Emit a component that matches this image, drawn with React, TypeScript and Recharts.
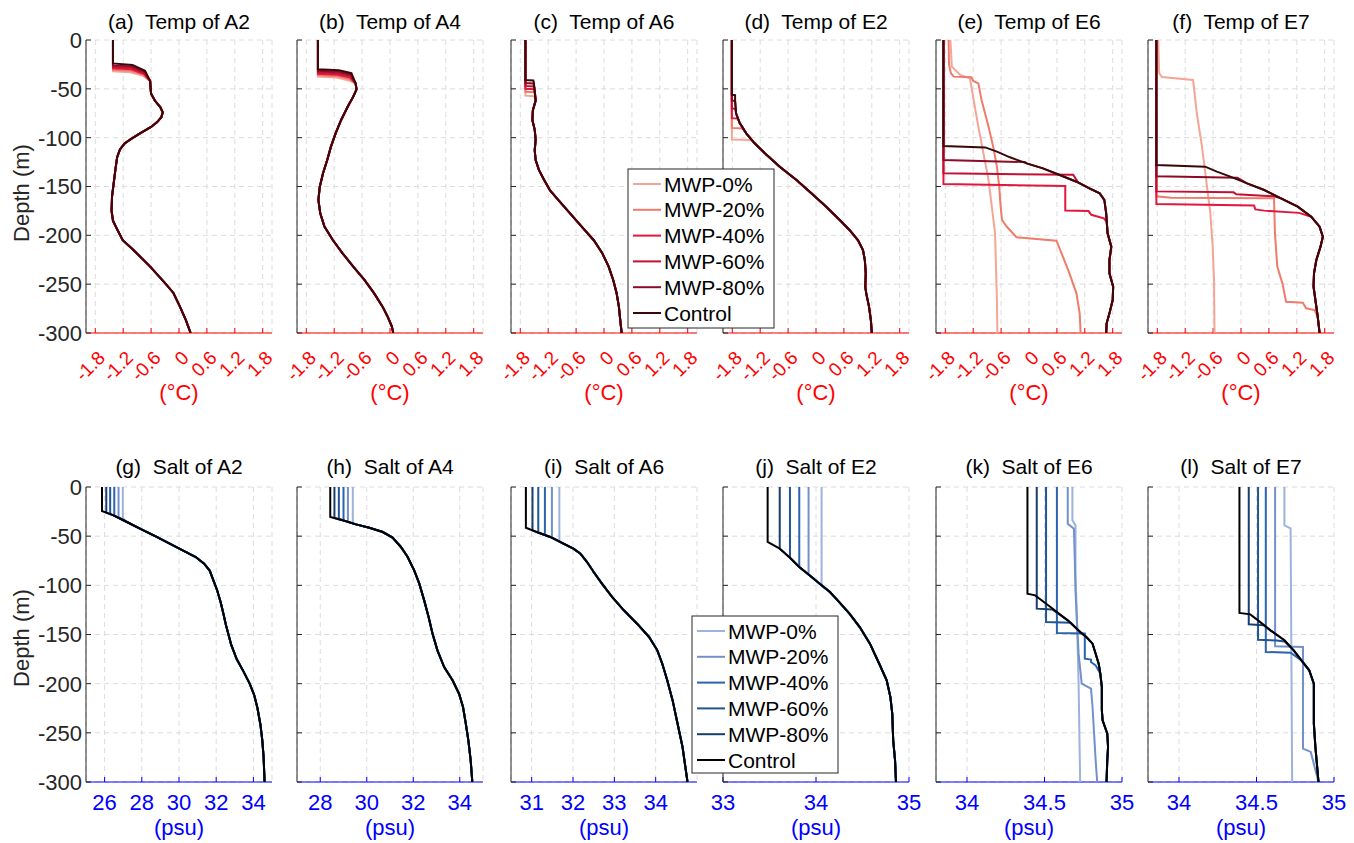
import React from 'react';
import { ScatterChart, Scatter, XAxis, YAxis, CartesianGrid } from 'recharts';

type P = number[][]; // [value, depth]

const SERIES = ['MWP-0%', 'MWP-20%', 'MWP-40%', 'MWP-60%', 'MWP-80%', 'Control'];
const TEMP_COLORS = ['#f4a596', '#ee7c6b', '#e2173d', '#c30f33', '#8c0b26', '#3a0808'];
const SALT_COLORS = ['#9db2dc', '#7490cb', '#2b63ae', '#1f5596', '#183e6e', '#000000'];
const STATIONS = ['A2', 'A4', 'A6', 'E2', 'E6', 'E7'];
const LETTERS_T = ['a', 'b', 'c', 'd', 'e', 'f'];
const LETTERS_S = ['g', 'h', 'i', 'j', 'k', 'l'];
const DEPTH_TICKS = [-300, -250, -200, -150, -100, -50, 0];
const TEMP_TICKS = [-1.8, -1.2, -0.6, 0, 0.6, 1.2, 1.8];
const SALT_TICKS = [[26, 28, 30, 32, 34], [28, 30, 32, 34], [31, 32, 33, 34], [33, 34, 35], [34, 34.5, 35], [34, 34.5, 35]];
const SALT_DOMAINS = [[25, 35], [27, 35], [30.5, 35], [33, 35], [33.8, 35], [33.8, 35]];

// ---------- Temperature ----------
// (a) A2
const tA2Tail: P = [[-0.62, -42], [-0.61, -50], [-0.6, -55], [-0.52, -62], [-0.4, -69], [-0.35, -74], [-0.38, -79], [-0.47, -84], [-0.6, -89], [-0.82, -95], [-1.02, -101], [-1.17, -106], [-1.27, -112], [-1.33, -120], [-1.36, -130], [-1.4, -145], [-1.44, -160], [-1.45, -175], [-1.42, -185], [-1.35, -192], [-1.21, -205], [-0.98, -215], [-0.62, -232], [-0.3, -249], [-0.12, -259], [0.02, -273], [0.15, -287], [0.25, -300]];
const tA2Heads: P[] = [
  [[-1.42, 0], [-1.42, -32], [-1.05, -33], [-0.78, -36.5]],
  [[-1.42, 0], [-1.42, -30.5], [-1.04, -31.5], [-0.77, -35.5]],
  [[-1.42, 0], [-1.42, -29], [-1.03, -30], [-0.76, -34.5]],
  [[-1.42, 0], [-1.42, -27.5], [-1.02, -28.5], [-0.75, -33.5]],
  [[-1.42, 0], [-1.42, -26], [-1.01, -27], [-0.74, -32.5]],
  [[-1.42, 0], [-1.42, -24], [-1.0, -25.5], [-0.73, -31.5]],
];
// (b) A4
const tA4Tail: P = [[-0.74, -44.4], [-0.72, -50.5], [-0.79, -58], [-0.91, -68.3], [-1.05, -81.9], [-1.17, -95.6], [-1.27, -109.2], [-1.35, -122.9], [-1.44, -136.5], [-1.51, -150.2], [-1.54, -163.8], [-1.5, -177.5], [-1.41, -191.1], [-1.23, -204.8], [-1.02, -218.4], [-0.79, -232.1], [-0.55, -245.7], [-0.34, -259.4], [-0.16, -273], [-0.05, -283.3], [0.04, -293.5], [0.07, -300]];
const tA4Heads: P[] = [
  [[-1.55, 0], [-1.55, -37.5], [-1.15, -38.5], [-0.88, -41.5]],
  [[-1.55, 0], [-1.55, -36], [-1.14, -37], [-0.87, -40]],
  [[-1.55, 0], [-1.55, -34.5], [-1.13, -35.5], [-0.86, -38.5]],
  [[-1.55, 0], [-1.55, -33], [-1.12, -34], [-0.85, -37]],
  [[-1.55, 0], [-1.55, -31.5], [-1.11, -32.5], [-0.84, -35.5]],
  [[-1.55, 0], [-1.55, -30], [-1.1, -31], [-0.83, -34]],
];
// (c) A6
const tA6Tail: P = [[-1.51, -43], [-1.5, -48], [-1.49, -52], [-1.48, -57], [-1.47, -62], [-1.53, -72], [-1.54, -82], [-1.49, -92], [-1.47, -102], [-1.49, -113], [-1.47, -123], [-1.4, -133], [-1.29, -143], [-1.16, -154], [-0.98, -164], [-0.73, -177.5], [-0.48, -191], [-0.22, -205], [-0.04, -218], [0.1, -232], [0.2, -246], [0.27, -259], [0.32, -273], [0.35, -287], [0.38, -300]];
const tA6Heads: P[] = [
  [[-1.69, 0], [-1.69, -57], [-1.5, -57.5]],
  [[-1.69, 0], [-1.69, -53], [-1.5, -53.5]],
  [[-1.69, 0], [-1.69, -50], [-1.51, -50.5]],
  [[-1.69, 0], [-1.69, -47], [-1.51, -47.5]],
  [[-1.69, 0], [-1.69, -44], [-1.52, -44.5]],
  [[-1.69, 0], [-1.69, -41], [-1.52, -41.5]],
];
// (d) E2
const tE2Tail: P = [[-1.72, -75], [-1.64, -85], [-1.5, -95.6], [-1.32, -105.8], [-1.1, -116], [-0.78, -129.7], [-0.42, -143.3], [-0.1, -157], [0.22, -170.7], [0.51, -184.3], [0.72, -194.5], [0.9, -204.8], [1.01, -215], [1.05, -225.3], [1.07, -238.9], [1.06, -252.6], [1.08, -259.4], [1.14, -273], [1.18, -286.7], [1.2, -300]];
const tE2Heads: P[] = [
  [[-1.81, 0], [-1.81, -102], [-1.4, -102.5]],
  [[-1.81, 0], [-1.81, -90], [-1.58, -90.5]],
  [[-1.81, 0], [-1.81, -80], [-1.68, -80.5]],
  [[-1.81, 0], [-1.81, -70], [-1.73, -70.5]],
  [[-1.81, 0], [-1.81, -62], [-1.74, -62.5], [-1.73, -68]],
  [[-1.81, 0], [-1.81, -56], [-1.74, -56.5], [-1.74, -62], [-1.73, -68]],
];
// (e) E6
const tE6Ctrl: P = [[-1.84, 0], [-1.84, -108.5], [-0.94, -110], [-0.69, -114.3], [-0.41, -120.1], [-0.05, -126.3], [0.3, -131.4], [0.66, -138.2], [1.02, -145.1], [1.3, -151.9], [1.52, -157], [1.62, -163.8], [1.66, -177.5], [1.69, -198], [1.77, -211.6], [1.73, -225.3], [1.73, -238.9], [1.81, -252.6], [1.8, -266.2], [1.73, -279.9], [1.67, -290.1], [1.66, -300]];
const tE6Mwp80Head: P = [[-1.84, 0], [-1.84, -122.9], [-0.09, -125]];
const tE6Mwp60Head: P = [[-1.84, 0], [-1.84, -136.5], [0.95, -138], [1.05, -145.5]];
const tE6Mwp40Head: P = [[-1.84, 0], [-1.84, -147.4], [0.78, -149.5], [0.78, -174.7], [1.28, -175.2], [1.34, -179], [1.61, -182.6], [1.67, -186]];
const tE6Mwp20: P = [[-1.73, 0], [-1.72, -25], [-1.68, -34], [-1.62, -37.5], [-1.24, -38.2], [-1.2, -42], [-1.09, -44.4], [-1.02, -61.4], [-0.87, -88.7], [-0.77, -109.2], [-0.69, -129.7], [-0.64, -150.2], [-0.61, -170.7], [-0.58, -184.3], [-0.48, -191], [-0.27, -202], [0.59, -205.5], [0.7, -218.4], [0.87, -238.9], [1.02, -259.4], [1.09, -279.9], [1.11, -300]];
const tE6Mwp0: P = [[-1.69, 0], [-1.66, -27.3], [-1.48, -35.8], [-1.27, -39.3], [-1.19, -61.4], [-1.09, -88.7], [-0.98, -116], [-0.87, -143.3], [-0.8, -170.7], [-0.73, -198], [-0.71, -232.1], [-0.69, -266.2], [-0.68, -300]];
// (f) E7
const tE7Ctrl: P = [[-1.82, 0], [-1.82, -128], [-0.77, -129.7], [-0.52, -134.8], [-0.23, -139.9], [0.13, -146.8], [0.5, -153.6], [0.86, -162.1], [1.22, -170.7], [1.51, -180.9], [1.69, -191.1], [1.76, -201.4], [1.71, -211.6], [1.62, -225.3], [1.57, -238.9], [1.56, -252.6], [1.6, -266.2], [1.65, -283.3], [1.69, -300]];
const tE7Mwp80Head: P = [[-1.82, 0], [-1.82, -139.5], [-0.08, -141], [0.13, -146.8]];
const tE7Mwp60Head: P = [[-1.82, 0], [-1.82, -155], [-0.16, -156], [-0.1, -158], [0.71, -160], [0.86, -162.1]];
const tE7Mwp40Head: P = [[-1.82, 0], [-1.82, -168], [0.28, -169.5], [0.31, -173.5], [0.5, -174.7], [1.25, -177], [1.51, -180.9]];
const tE7Mwp20Head: P = [[-1.82, 0], [-1.82, -160], [-1.5, -161.5], [0.71, -162], [0.73, -198], [0.78, -232], [0.89, -249], [0.97, -268], [1.33, -269], [1.4, -274.7], [1.58, -276.5]];
const tE7Mwp0: P = [[-1.78, 0], [-1.76, -34], [-1.7, -38], [-1.03, -41], [-0.95, -75], [-0.84, -109], [-0.75, -143], [-0.66, -177], [-0.61, -211], [-0.58, -246], [-0.57, -300]];

// ---------- Salinity ----------
// (g) A2
const sA2Ctrl: P = [[25.86, 0], [25.86, -24.4], [26.48, -28.8], [27.2, -35.6], [27.9, -42.4], [28.8, -50.8], [29.5, -57.6], [30.2, -64.4], [30.9, -71.2], [31.35, -78], [31.65, -85], [31.85, -94.9], [32.05, -105], [32.25, -118], [32.4, -130], [32.52, -140], [32.66, -150], [32.8, -160], [33.1, -175], [33.45, -187], [33.8, -200], [34.05, -212], [34.22, -225], [34.38, -242], [34.48, -258], [34.55, -275], [34.6, -300]];
const sA2Heads: P[] = [
  [[26.98, 0], [26.98, -31.5]],
  [[26.75, 0], [26.75, -30.3]],
  [[26.52, 0], [26.52, -29]],
  [[26.3, 0], [26.3, -27.5]],
  [[26.09, 0], [26.09, -26]],
  [[25.86, 0], [25.86, -24.4]],
];
// (h) A4
const sA4Ctrl: P = [[28.43, 0], [28.43, -30.5], [28.97, -33.9], [29.54, -38], [30.11, -41.4], [30.69, -45.8], [31.11, -51.5], [31.47, -61], [31.76, -71.2], [32.04, -84.7], [32.26, -98.3], [32.47, -115.3], [32.66, -132.2], [32.83, -149.2], [33.04, -166.1], [33.33, -183.1], [33.69, -196.6], [33.97, -210.2], [34.14, -223.7], [34.26, -240.7], [34.37, -257.6], [34.47, -278], [34.54, -300]];
const sA4Heads: P[] = [
  [[29.4, 0], [29.4, -37]],
  [[29.19, 0], [29.19, -35.5]],
  [[29.0, 0], [29.0, -34.1]],
  [[28.8, 0], [28.8, -32.8]],
  [[28.61, 0], [28.61, -31.6]],
  [[28.43, 0], [28.43, -30.5]],
];
// (i) A6
const sA6Ctrl: P = [[30.86, 0], [30.86, -41.4], [31.12, -45.8], [31.45, -50.8], [31.77, -57.6], [32.01, -62.7], [32.18, -67.8], [32.34, -76.3], [32.5, -86.4], [32.7, -98.3], [32.95, -111.9], [33.23, -125.4], [33.55, -139], [33.84, -152.5], [34.04, -166.1], [34.16, -179.7], [34.28, -196.6], [34.41, -217], [34.53, -240.7], [34.65, -264.4], [34.77, -300]];
const sA6Heads: P[] = [
  [[31.67, 0], [31.67, -55.6]],
  [[31.49, 0], [31.49, -51.2]],
  [[31.32, 0], [31.32, -48.8]],
  [[31.16, 0], [31.16, -46.3]],
  [[31.02, 0], [31.02, -44.1]],
  [[30.86, 0], [30.86, -41.4]],
];
// (j) E2
const sE2Ctrl: P = [[33.48, 0], [33.48, -55.9], [33.61, -62.7], [33.72, -71.9], [33.82, -81.4], [33.93, -89.8], [34.04, -98.3], [34.15, -106.8], [34.25, -117], [34.36, -128.8], [34.47, -142.4], [34.58, -159.3], [34.68, -179.7], [34.76, -196.6], [34.8, -213.6], [34.82, -230.5], [34.83, -257.6], [34.85, -278], [34.86, -300]];
const sE2Heads: P[] = [
  [[34.06, 0], [34.06, -101]],
  [[33.92, 0], [33.92, -89]],
  [[33.82, 0], [33.82, -81.4]],
  [[33.72, 0], [33.72, -71.9]],
  [[33.61, 0], [33.61, -62.7]],
  [[33.48, 0], [33.48, -55.9]],
];
// (k) E6
const sE6Ctrl: P = [[34.39, 0], [34.39, -108.5], [34.44, -110.2], [34.53, -121], [34.65, -135.6], [34.73, -147.5], [34.77, -152.5], [34.81, -159.3], [34.83, -169.5], [34.85, -180], [34.86, -189.8], [34.87, -203.4], [34.87, -217], [34.87, -227.1], [34.875, -237.3], [34.905, -250.8], [34.91, -264.4], [34.905, -278], [34.9, -300]];
const sE6Mwp80Head: P = [[34.45, 0], [34.45, -123.7], [34.55, -124.5]];
const sE6Mwp60Head: P = [[34.51, 0], [34.51, -137.3], [34.67, -138]];
const sE6Mwp40Head: P = [[34.58, 0], [34.58, -148.5], [34.76, -149], [34.76, -174.6], [34.8, -175.5], [34.8, -178], [34.83, -181.4]];
const sE6Mwp20: P = [[34.65, 0], [34.65, -37.3], [34.69, -42.4], [34.695, -71.2], [34.7, -105.1], [34.71, -139], [34.72, -169.5], [34.74, -200], [34.8, -205.1], [34.81, -223.7], [34.82, -250.8], [34.83, -278], [34.84, -300]];
const sE6Mwp0: P = [[34.68, 0], [34.68, -33.9], [34.7, -39], [34.7, -88], [34.71, -139], [34.72, -200], [34.73, -300]];
// (l) E7
const sE7Ctrl: P = [[34.39, 0], [34.39, -128.1], [34.46, -129.5], [34.51, -135.6], [34.59, -145.8], [34.68, -155.9], [34.74, -166.1], [34.79, -176.3], [34.84, -186.4], [34.87, -200], [34.87, -217], [34.87, -240.7], [34.88, -264.4], [34.9, -300]];
const sE7Mwp80Head: P = [[34.45, 0], [34.45, -139.7], [34.55, -140.7]];
const sE7Mwp60Head: P = [[34.51, 0], [34.51, -155.3], [34.63, -156], [34.68, -157]];
const sE7Mwp40Head: P = [[34.56, 0], [34.56, -167.8], [34.72, -168.5], [34.79, -176.5]];
const sE7Mwp20Head: P = [[34.62, 0], [34.62, -162], [34.8, -162.7], [34.8, -266], [34.85, -269.4]];
const sE7Mwp0: P = [[34.68, 0], [34.68, -39], [34.72, -42], [34.73, -300]];

// join a head with the deeper part of a shared profile
const join = (head: P, tail: P): P => head.concat(tail.filter((p) => p[1] < head[head.length - 1][1]));

const TEMP_PANELS: P[][] = [
  tA2Heads.map((h) => join(h, tA2Tail)),
  tA4Heads.map((h) => join(h, tA4Tail)),
  tA6Heads.map((h) => join(h, tA6Tail)),
  tE2Heads.map((h) => join(h, tE2Tail)),
  [tE6Mwp0, tE6Mwp20, join(tE6Mwp40Head, tE6Ctrl), join(tE6Mwp60Head, tE6Ctrl), join(tE6Mwp80Head, tE6Ctrl), tE6Ctrl],
  [tE7Mwp0, join(tE7Mwp20Head, tE7Ctrl), join(tE7Mwp40Head, tE7Ctrl), join(tE7Mwp60Head, tE7Ctrl), join(tE7Mwp80Head, tE7Ctrl), tE7Ctrl],
];
const SALT_PANELS: P[][] = [
  sA2Heads.map((h) => join(h, sA2Ctrl)),
  sA4Heads.map((h) => join(h, sA4Ctrl)),
  sA6Heads.map((h) => join(h, sA6Ctrl)),
  sE2Heads.map((h) => join(h, sE2Ctrl)),
  [sE6Mwp0, sE6Mwp20, join(sE6Mwp40Head, sE6Ctrl), join(sE6Mwp60Head, sE6Ctrl), join(sE6Mwp80Head, sE6Ctrl), sE6Ctrl],
  [sE7Mwp0, join(sE7Mwp20Head, sE7Ctrl), join(sE7Mwp40Head, sE7Ctrl), join(sE7Mwp60Head, sE7Ctrl), join(sE7Mwp80Head, sE7Ctrl), sE7Ctrl],
];

// ---------- layout ----------
const FONT = '"Liberation Sans", Arial, Helvetica, sans-serif';
const PLOT_LEFTS = [86, 297, 511, 723, 936, 1148];
const PLOT_W = 186;
const TOP_ROW = { top: 40, h: 293 };
const BOT_ROW = { top: 487, h: 295 };
const ML = 90;
const MT = 20;
const MB = 70;
const MR = 24;

const Empty = () => <g />;

const fmt = (v: number) => String(v);

const DepthTick = (props: any) => {
  const { x, y, payload } = props;
  return (
    <text x={x} y={y} dy="0.36em" textAnchor="end" fontSize={22} fill="#262626" fontFamily={FONT}>
      {fmt(payload.value)}
    </text>
  );
};
const NoTick = () => <g />;
const TempTick = (props: any) => {
  const { x, y, payload } = props;
  const tx = x + 11;
  const ty = y + 26;
  return (
    <text x={tx} y={ty} transform={`rotate(-45 ${tx} ${ty})`} textAnchor="end" fontSize={19} fill="#ff0000" fontFamily={FONT}>
      {fmt(payload.value)}
    </text>
  );
};
const SaltTick = (props: any) => {
  const { x, y, payload } = props;
  return (
    <text x={x} y={y + 20} dy="0.36em" textAnchor="middle" fontSize={22} fill="#0000ff" fontFamily={FONT}>
      {fmt(payload.value)}
    </text>
  );
};

interface PanelProps {
  left: number;
  top: number;
  h: number;
  domain: number[];
  ticks: number[];
  series: P[];
  colors: string[];
  axisColor: string;
  temp: boolean;
  showY: boolean;
}

function Panel({ left, top, h, domain, ticks, series, colors, axisColor, temp, showY }: PanelProps) {
  return (
    <div style={{ position: 'absolute', left: left - ML, top: top - MT }}>
      <ScatterChart width={ML + PLOT_W + MR} height={MT + h + MB} margin={{ top: MT, right: MR, bottom: 0, left: 0 }}>
        <CartesianGrid stroke="#dcdcdc" strokeDasharray="5 4" strokeWidth={1} />
        <XAxis
          type="number"
          dataKey="x"
          domain={domain}
          ticks={ticks}
          interval={0}
          allowDataOverflow
          height={MB}
          stroke={axisColor}
          tickSize={-5}
          tickMargin={5}
          tick={temp ? TempTick : SaltTick}
        />
        <YAxis
          type="number"
          dataKey="y"
          domain={[-300, 0]}
          ticks={DEPTH_TICKS}
          interval={0}
          allowDataOverflow
          width={ML}
          stroke="#262626"
          tickSize={-5}
          tickMargin={9}
          tick={showY ? DepthTick : NoTick}
        />
        {series.map((s, i) => (
          <Scatter
            key={i}
            name={SERIES[i]}
            data={s.map((p) => ({ x: p[0], y: p[1] }))}
            fill={colors[i]}
            line={{ stroke: colors[i], strokeWidth: 2 }}
            shape={Empty}
            isAnimationActive={false}
          />
        ))}
      </ScatterChart>
    </div>
  );
}

function LegendBox({ x, y, w, h, colors }: { x: number; y: number; w: number; h: number; colors: string[] }) {
  return (
    <g>
      <rect x={x} y={y} width={w} height={h} fill="#ffffff" stroke="#262626" strokeWidth={1} />
      {SERIES.map((name, i) => {
        const cy = y + 15 + i * 25.8;
        return (
          <g key={name}>
            <line x1={x + 5} x2={x + 33} y1={cy} y2={cy} stroke={colors[i]} strokeWidth={2} />
            <text x={x + 36} y={cy} dy="0.36em" fontSize={21} fill="#000" fontFamily={FONT}>
              {name}
            </text>
          </g>
        );
      })}
    </g>
  );
}

export default function App() {
  return (
    <div style={{ position: 'absolute', left: 0, top: 0, width: 1354, height: 843, background: '#fff', fontFamily: FONT, overflow: 'hidden' }}>
      {STATIONS.map((st, i) => (
        <Panel
          key={'t' + st}
          left={PLOT_LEFTS[i]}
          top={TOP_ROW.top}
          h={TOP_ROW.h}
          domain={[-2, 2]}
          ticks={TEMP_TICKS}
          series={TEMP_PANELS[i]}
          colors={TEMP_COLORS}
          axisColor="#ff0000"
          temp
          showY={i === 0}
        />
      ))}
      {STATIONS.map((st, i) => (
        <Panel
          key={'s' + st}
          left={PLOT_LEFTS[i]}
          top={BOT_ROW.top}
          h={BOT_ROW.h}
          domain={SALT_DOMAINS[i]}
          ticks={SALT_TICKS[i]}
          series={SALT_PANELS[i]}
          colors={SALT_COLORS}
          axisColor="#0000ff"
          temp={false}
          showY={i === 0}
        />
      ))}
      <svg width={1354} height={843} style={{ position: 'absolute', left: 0, top: 0, pointerEvents: 'none' }}>
        {STATIONS.map((st, i) => (
          <g key={'lab' + st}>
            <text x={PLOT_LEFTS[i] + PLOT_W / 2} y={29} textAnchor="middle" fontSize={21} fill="#000" fontFamily={FONT} style={{ whiteSpace: 'pre' }}>
              {`(${LETTERS_T[i]})  Temp of ${st}`}
            </text>
            <text x={PLOT_LEFTS[i] + PLOT_W / 2} y={474} textAnchor="middle" fontSize={21} fill="#000" fontFamily={FONT} style={{ whiteSpace: 'pre' }}>
              {`(${LETTERS_S[i]})  Salt of ${st}`}
            </text>
            <text x={PLOT_LEFTS[i] + PLOT_W / 2} y={400} textAnchor="middle" fontSize={22} fill="#ff0000" fontFamily={FONT}>
              (°C)
            </text>
            <text x={PLOT_LEFTS[i] + PLOT_W / 2} y={835} textAnchor="middle" fontSize={22} fill="#0000ff" fontFamily={FONT}>
              (psu)
            </text>
          </g>
        ))}
        <text x={29} y={193} transform="rotate(-90 29 193)" textAnchor="middle" fontSize={22} fill="#262626" fontFamily={FONT}>
          Depth (m)
        </text>
        <text x={29} y={638} transform="rotate(-90 29 638)" textAnchor="middle" fontSize={22} fill="#262626" fontFamily={FONT}>
          Depth (m)
        </text>
        <LegendBox x={628} y={169} w={146} h={159} colors={TEMP_COLORS} />
        <LegendBox x={692} y={616} w={146} h={157} colors={SALT_COLORS} />
      </svg>
    </div>
  );
}
